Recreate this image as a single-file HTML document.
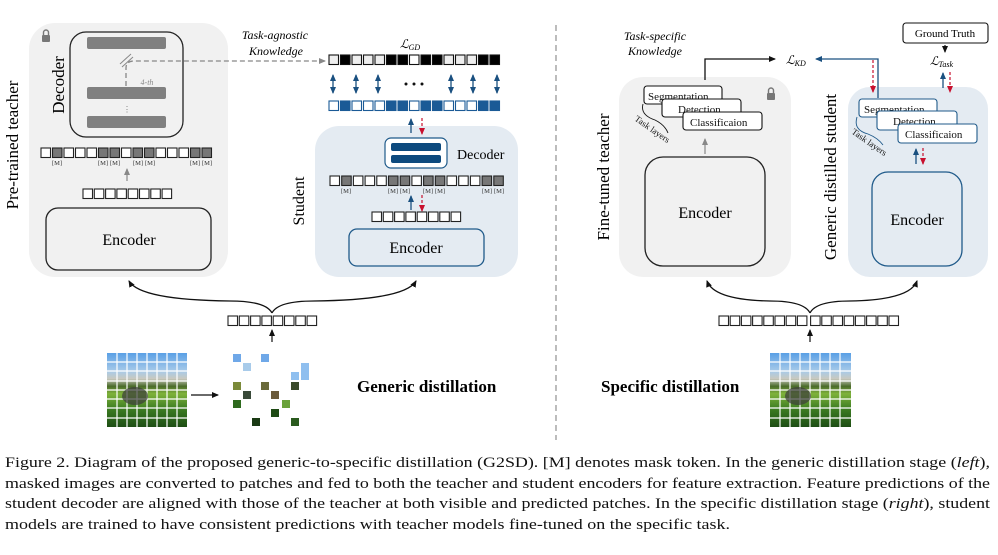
<!DOCTYPE html>
<html><head><meta charset="utf-8"><style>
html,body{margin:0;padding:0;background:#fff;}
svg{display:block;}
text{font-family:"Liberation Serif",serif;}
</style></head><body>
<svg width="998" height="555" viewBox="0 0 998 555" xmlns="http://www.w3.org/2000/svg">
<defs>
<marker id="ab" markerWidth="8" markerHeight="8" refX="6" refY="3" orient="auto" markerUnits="userSpaceOnUse"><path d="M0,0 L7,3 L0,6 Z" fill="#111"/></marker>
<marker id="ag" markerWidth="8" markerHeight="8" refX="6" refY="3" orient="auto" markerUnits="userSpaceOnUse"><path d="M0,0 L7,3 L0,6 Z" fill="#888"/></marker>
<marker id="au" markerWidth="8" markerHeight="8" refX="6" refY="3" orient="auto" markerUnits="userSpaceOnUse"><path d="M0,0 L7,3 L0,6 Z" fill="#1a5080"/></marker>
<marker id="au2" markerWidth="8" markerHeight="8" refX="1" refY="3" orient="auto" markerUnits="userSpaceOnUse"><path d="M7,0 L0,3 L7,6 Z" fill="#1a5080"/></marker>
<marker id="ar" markerWidth="8" markerHeight="8" refX="6" refY="3" orient="auto" markerUnits="userSpaceOnUse"><path d="M0,0 L7,3 L0,6 Z" fill="#c8102e"/></marker>
<linearGradient id="img" x1="0" y1="0" x2="0" y2="1">
<stop offset="0" stop-color="#5aa0e6"/><stop offset="0.25" stop-color="#a9cbe8"/><stop offset="0.35" stop-color="#c9c9bf"/><stop offset="0.45" stop-color="#4a6b2a"/><stop offset="0.55" stop-color="#7fb23a"/><stop offset="0.75" stop-color="#3d7d22"/><stop offset="1" stop-color="#1d4d14"/>
</linearGradient>
<g id="sq"><rect width="9.5" height="9.5" fill="#fff" stroke="#222" stroke-width="1.1"/></g>
</defs>

<!-- LEFT TEACHER -->
<rect x="29" y="23" width="199" height="254" rx="26" fill="#f1f1f1"/>
<rect x="42" y="35" width="8" height="7" rx="1" fill="#777"/><path d="M43.5,35 v-2.5 a2.5,2.5 0 0 1 5,0 v2.5" fill="none" stroke="#777" stroke-width="1.4"/>
<rect x="70" y="32" width="113" height="105" rx="16" fill="none" stroke="#222" stroke-width="1.3"/>
<rect x="87" y="37" width="79" height="12" rx="2" fill="#808080"/>
<rect x="87" y="87" width="79" height="12" rx="2" fill="#808080"/>
<rect x="87" y="116" width="79" height="12" rx="2" fill="#808080"/>
<text x="127" y="112" font-size="8" fill="#777" text-anchor="middle">⋮</text>
<path d="M126,86 V68 Q126,61 134,61 H325" fill="none" stroke="#888" stroke-width="1.3" stroke-dasharray="5,3" marker-end="url(#ag)"/>
<path d="M120,64 L131,54 M122,67 L133,57" stroke="#888" stroke-width="1"/>
<text x="147" y="85" font-size="8" font-style="italic" fill="#888" text-anchor="middle">4-th</text>
<text transform="translate(64,85) rotate(-90)" font-size="17" text-anchor="middle">Decoder</text>
<text transform="translate(18,145) rotate(-90)" font-size="17" text-anchor="middle">Pre-trained teacher</text>
<g fill="#fff" stroke="#222" stroke-width="1.1">
<rect x="41" y="148" width="9.5" height="9.5"/><rect x="52.5" y="148" width="9.5" height="9.5" fill="#777"/><rect x="64" y="148" width="9.5" height="9.5"/><rect x="75.5" y="148" width="9.5" height="9.5"/><rect x="87" y="148" width="9.5" height="9.5"/><rect x="98.5" y="148" width="9.5" height="9.5" fill="#777"/><rect x="110" y="148" width="9.5" height="9.5" fill="#777"/><rect x="121.5" y="148" width="9.5" height="9.5"/><rect x="133" y="148" width="9.5" height="9.5" fill="#777"/><rect x="144.5" y="148" width="9.5" height="9.5" fill="#777"/><rect x="156" y="148" width="9.5" height="9.5"/><rect x="167.5" y="148" width="9.5" height="9.5"/><rect x="179" y="148" width="9.5" height="9.5"/><rect x="190.5" y="148" width="9.5" height="9.5" fill="#777"/><rect x="202" y="148" width="9.5" height="9.5" fill="#777"/>
</g>
<g font-size="6.5" fill="#333" text-anchor="middle">
<text x="57" y="165">[M]</text><text x="103" y="165">[M]</text><text x="115" y="165">[M]</text><text x="138" y="165">[M]</text><text x="150" y="165">[M]</text><text x="195" y="165">[M]</text><text x="207" y="165">[M]</text>
</g>
<line x1="127" y1="181" x2="127" y2="169" stroke="#888" stroke-width="1.2" marker-end="url(#ag)"/>
<g fill="#fff" stroke="#222" stroke-width="1.1">
<rect x="83" y="189" width="9.5" height="9.5"/><rect x="94.3" y="189" width="9.5" height="9.5"/><rect x="105.6" y="189" width="9.5" height="9.5"/><rect x="116.9" y="189" width="9.5" height="9.5"/><rect x="128.2" y="189" width="9.5" height="9.5"/><rect x="139.5" y="189" width="9.5" height="9.5"/><rect x="150.8" y="189" width="9.5" height="9.5"/><rect x="162.1" y="189" width="9.5" height="9.5"/>
</g>
<rect x="46" y="208" width="165" height="62" rx="12" fill="none" stroke="#222" stroke-width="1.3"/>
<text x="129" y="245" font-size="16" text-anchor="middle">Encoder</text>

<text x="275" y="39" font-size="12" font-style="italic" text-anchor="middle">Task-agnostic</text>
<text x="276" y="55" font-size="12" font-style="italic" text-anchor="middle">Knowledge</text>
<text x="400" y="48" font-size="12" font-style="italic">ℒ<tspan font-size="8" dy="2">GD</tspan></text>

<!-- alignment rows -->
<g stroke="#111" stroke-width="1.1" fill="#fff">
<rect x="329" y="55" width="9.5" height="9.5" fill="#eee"/><rect x="340.5" y="55" width="9.5" height="9.5" fill="#000"/><rect x="352" y="55" width="9.5" height="9.5" fill="#eee"/><rect x="363.5" y="55" width="9.5" height="9.5" fill="#eee"/><rect x="375" y="55" width="9.5" height="9.5" fill="#eee"/><rect x="386.5" y="55" width="9.5" height="9.5" fill="#000"/><rect x="398" y="55" width="9.5" height="9.5" fill="#000"/><rect x="409.5" y="55" width="9.5" height="9.5"/><rect x="421" y="55" width="9.5" height="9.5" fill="#000"/><rect x="432.5" y="55" width="9.5" height="9.5" fill="#000"/><rect x="444" y="55" width="9.5" height="9.5" fill="#eee"/><rect x="455.5" y="55" width="9.5" height="9.5" fill="#eee"/><rect x="467" y="55" width="9.5" height="9.5" fill="#eee"/><rect x="478.5" y="55" width="9.5" height="9.5" fill="#000"/><rect x="490" y="55" width="9.5" height="9.5" fill="#000"/>
</g>
<g stroke="#1a5a96" stroke-width="1.1" fill="#fff">
<rect x="329" y="101" width="9.5" height="9.5"/><rect x="340.5" y="101" width="9.5" height="9.5" fill="#1a5a96"/><rect x="352" y="101" width="9.5" height="9.5"/><rect x="363.5" y="101" width="9.5" height="9.5"/><rect x="375" y="101" width="9.5" height="9.5"/><rect x="386.5" y="101" width="9.5" height="9.5" fill="#1a5a96"/><rect x="398" y="101" width="9.5" height="9.5" fill="#1a5a96"/><rect x="409.5" y="101" width="9.5" height="9.5"/><rect x="421" y="101" width="9.5" height="9.5" fill="#1a5a96"/><rect x="432.5" y="101" width="9.5" height="9.5" fill="#1a5a96"/><rect x="444" y="101" width="9.5" height="9.5"/><rect x="455.5" y="101" width="9.5" height="9.5"/><rect x="467" y="101" width="9.5" height="9.5"/><rect x="478.5" y="101" width="9.5" height="9.5" fill="#1a5a96"/><rect x="490" y="101" width="9.5" height="9.5" fill="#1a5a96"/>
</g>
<g stroke="#1a5080" stroke-width="1.3">
<line x1="333" y1="75" x2="333" y2="93" marker-end="url(#au)" marker-start="url(#au2)"/>
<line x1="356" y1="75" x2="356" y2="93" marker-end="url(#au)" marker-start="url(#au2)"/>
<line x1="378" y1="75" x2="378" y2="93" marker-end="url(#au)" marker-start="url(#au2)"/>
<line x1="451" y1="75" x2="451" y2="93" marker-end="url(#au)" marker-start="url(#au2)"/>
<line x1="473" y1="75" x2="473" y2="93" marker-end="url(#au)" marker-start="url(#au2)"/>
<line x1="497" y1="75" x2="497" y2="93" marker-end="url(#au)" marker-start="url(#au2)"/>
</g>
<g fill="#111"><circle cx="406" cy="84" r="1.5"/><circle cx="414" cy="84" r="1.5"/><circle cx="422" cy="84" r="1.5"/></g>

<!-- STUDENT -->
<rect x="315" y="126" width="203" height="151" rx="24" fill="#e4ebf2"/>
<line x1="411" y1="133" x2="411" y2="119" stroke="#1a5080" stroke-width="1.3" marker-end="url(#au)"/>
<line x1="422" y1="118" x2="422" y2="134" stroke="#c8102e" stroke-width="1.2" stroke-dasharray="3,2" marker-end="url(#ar)"/>
<rect x="385" y="138" width="62" height="30" rx="6" fill="#fff" stroke="#1f5a8a" stroke-width="1.2"/>
<rect x="391" y="143" width="50" height="8" rx="2" fill="#0d4a7e"/>
<rect x="391" y="155" width="50" height="8" rx="2" fill="#0d4a7e"/>
<text x="457" y="159" font-size="14">Decoder</text>
<text transform="translate(304,201) rotate(-90)" font-size="16" text-anchor="middle">Student</text>
<g fill="#fff" stroke="#222" stroke-width="1.1">
<rect x="330" y="176" width="9.5" height="9.5"/><rect x="341.7" y="176" width="9.5" height="9.5" fill="#777"/><rect x="353.4" y="176" width="9.5" height="9.5"/><rect x="365.1" y="176" width="9.5" height="9.5"/><rect x="376.8" y="176" width="9.5" height="9.5"/><rect x="388.5" y="176" width="9.5" height="9.5" fill="#777"/><rect x="400.2" y="176" width="9.5" height="9.5" fill="#777"/><rect x="411.9" y="176" width="9.5" height="9.5"/><rect x="423.6" y="176" width="9.5" height="9.5" fill="#777"/><rect x="435.3" y="176" width="9.5" height="9.5" fill="#777"/><rect x="447" y="176" width="9.5" height="9.5"/><rect x="458.7" y="176" width="9.5" height="9.5"/><rect x="470.4" y="176" width="9.5" height="9.5"/><rect x="482.1" y="176" width="9.5" height="9.5" fill="#777"/><rect x="493.8" y="176" width="9.5" height="9.5" fill="#777"/>
</g>
<g font-size="6.5" fill="#333" text-anchor="middle">
<text x="346" y="193">[M]</text><text x="393" y="193">[M]</text><text x="405" y="193">[M]</text><text x="428" y="193">[M]</text><text x="440" y="193">[M]</text><text x="487" y="193">[M]</text><text x="499" y="193">[M]</text>
</g>
<line x1="411" y1="210" x2="411" y2="196" stroke="#1a5080" stroke-width="1.3" marker-end="url(#au)"/>
<line x1="422" y1="195" x2="422" y2="211" stroke="#c8102e" stroke-width="1.2" stroke-dasharray="3,2" marker-end="url(#ar)"/>
<g fill="#fff" stroke="#222" stroke-width="1.1">
<rect x="372" y="212" width="9.5" height="9.5"/><rect x="383.3" y="212" width="9.5" height="9.5"/><rect x="394.6" y="212" width="9.5" height="9.5"/><rect x="405.9" y="212" width="9.5" height="9.5"/><rect x="417.2" y="212" width="9.5" height="9.5"/><rect x="428.5" y="212" width="9.5" height="9.5"/><rect x="439.8" y="212" width="9.5" height="9.5"/><rect x="451.1" y="212" width="9.5" height="9.5"/>
</g>
<rect x="349" y="229" width="135" height="37" rx="8" fill="#fff" fill-opacity="0" stroke="#1f5a8a" stroke-width="1.3"/>
<text x="416" y="253" font-size="16" text-anchor="middle">Encoder</text>

<!-- bottom left -->
<path d="M272,313 Q266,301 230,301 Q140,300 129,281" fill="none" stroke="#111" stroke-width="1.3" marker-end="url(#ab)"/>
<path d="M272,313 Q278,301 314,301 Q405,300 416,281" fill="none" stroke="#111" stroke-width="1.3" marker-end="url(#ab)"/>
<g fill="#fff" stroke="#222" stroke-width="1.1">
<rect x="228" y="316" width="9.5" height="9.5"/><rect x="239.3" y="316" width="9.5" height="9.5"/><rect x="250.6" y="316" width="9.5" height="9.5"/><rect x="261.9" y="316" width="9.5" height="9.5"/><rect x="273.2" y="316" width="9.5" height="9.5"/><rect x="284.5" y="316" width="9.5" height="9.5"/><rect x="295.8" y="316" width="9.5" height="9.5"/><rect x="307.1" y="316" width="9.5" height="9.5"/>
</g>
<line x1="272" y1="342" x2="272" y2="330" stroke="#111" stroke-width="1.2" marker-end="url(#ab)"/>
<rect x="107" y="353" width="80" height="74" fill="url(#img)"/>
<g stroke="#fff" stroke-width="1.2">
<line x1="117" y1="353" x2="117" y2="427"/><line x1="127" y1="353" x2="127" y2="427"/><line x1="137" y1="353" x2="137" y2="427"/><line x1="147" y1="353" x2="147" y2="427"/><line x1="157" y1="353" x2="157" y2="427"/><line x1="167" y1="353" x2="167" y2="427"/><line x1="177" y1="353" x2="177" y2="427"/>
<line x1="107" y1="362" x2="187" y2="362"/><line x1="107" y1="371" x2="187" y2="371"/><line x1="107" y1="381" x2="187" y2="381"/><line x1="107" y1="390" x2="187" y2="390"/><line x1="107" y1="399" x2="187" y2="399"/><line x1="107" y1="408" x2="187" y2="408"/><line x1="107" y1="418" x2="187" y2="418"/>
</g>
<ellipse cx="135" cy="396" rx="13" ry="9" fill="#3b3b3b" opacity="0.7"/>
<line x1="191" y1="395" x2="218" y2="395" stroke="#111" stroke-width="1.3" marker-end="url(#ab)"/>
<g>
<rect x="233" y="354" width="8" height="8" fill="#6fa8e8"/><rect x="261" y="354" width="8" height="8" fill="#6fa8e8"/><rect x="243" y="363" width="8" height="8" fill="#a8cbea"/>
<rect x="301" y="363" width="8" height="17" fill="#8fbfef"/><rect x="291" y="372" width="8" height="8" fill="#8fbfef"/>
<rect x="233" y="382" width="8" height="8" fill="#7b8a3a"/><rect x="261" y="382" width="8" height="8" fill="#6a6a3a"/><rect x="291" y="382" width="8" height="8" fill="#3a4a2a"/>
<rect x="243" y="391" width="8" height="8" fill="#3a4a3a"/><rect x="271" y="391" width="8" height="8" fill="#6a5a3a"/>
<rect x="233" y="400" width="8" height="8" fill="#2e6a1e"/><rect x="282" y="400" width="8" height="8" fill="#6aa23a"/>
<rect x="271" y="409" width="8" height="8" fill="#1e4a14"/><rect x="252" y="418" width="8" height="8" fill="#1a3a14"/><rect x="291" y="418" width="8" height="8" fill="#2a5a1e"/>
</g>
<text x="357" y="392" font-size="17" font-weight="bold">Generic distillation</text>

<line x1="556" y1="25" x2="556" y2="440" stroke="#999" stroke-width="1.3" stroke-dasharray="6,4"/>

<!-- RIGHT -->
<text x="655" y="40" font-size="12" font-style="italic" text-anchor="middle">Task-specific</text>
<text x="655" y="55" font-size="12" font-style="italic" text-anchor="middle">Knowledge</text>
<rect x="619" y="77" width="172" height="200" rx="24" fill="#f1f1f1"/>
<rect x="767" y="93" width="8" height="7" rx="1" fill="#777"/><path d="M768.5,93 v-2.5 a2.5,2.5 0 0 1 5,0 v2.5" fill="none" stroke="#777" stroke-width="1.4"/>
<path d="M705,80 V59 H775" fill="none" stroke="#111" stroke-width="1.3" marker-end="url(#ab)"/>
<text x="786" y="64" font-size="12" font-style="italic">ℒ<tspan font-size="8" dy="2">KD</tspan></text>
<g font-size="11" fill="#111">
<rect x="644" y="86" width="78" height="18" rx="3" fill="#fff" stroke="#111" stroke-width="1.1"/><text x="648" y="100">Segmentation</text>
<rect x="662" y="99" width="79" height="18" rx="3" fill="#fff" stroke="#111" stroke-width="1.1"/><text x="678" y="113">Detection</text>
<rect x="683" y="112" width="79" height="18" rx="3" fill="#fff" stroke="#111" stroke-width="1.1"/><text x="690" y="126">Classificaion</text>
</g>
<path d="M643,104 Q640,115 655,120 Q665,125 668,133" fill="none" stroke="#111" stroke-width="0.9"/>
<text transform="translate(634,120) rotate(35)" font-size="9" fill="#111">Task layers</text>
<line x1="705" y1="154" x2="705" y2="139" stroke="#888" stroke-width="1.2" marker-end="url(#ag)"/>
<rect x="645" y="157" width="120" height="109" rx="18" fill="none" stroke="#222" stroke-width="1.3"/>
<text x="705" y="218" font-size="16" text-anchor="middle">Encoder</text>
<text transform="translate(609,177) rotate(-90)" font-size="17" text-anchor="middle">Fine-tuned teacher</text>

<rect x="848" y="87" width="140" height="190" rx="22" fill="#e4ebf2"/>
<path d="M878,98 V59 H816" fill="none" stroke="#1a5080" stroke-width="1.3" marker-end="url(#au)"/>
<line x1="873" y1="60" x2="873" y2="92" stroke="#c8102e" stroke-width="1.2" stroke-dasharray="3,2" marker-end="url(#ar)"/>
<rect x="903" y="23" width="85" height="20" rx="3" fill="#fff" stroke="#111" stroke-width="1.1"/>
<text x="945" y="37" font-size="11" text-anchor="middle">Ground Truth</text>
<line x1="945" y1="45" x2="945" y2="52" stroke="#111" stroke-width="1.2" marker-end="url(#ab)"/>
<text x="930" y="65" font-size="12" font-style="italic">ℒ<tspan font-size="8" dy="2">Task</tspan></text>
<line x1="943" y1="88" x2="943" y2="73" stroke="#1a5080" stroke-width="1.3" marker-end="url(#au)"/>
<line x1="950" y1="72" x2="950" y2="92" stroke="#c8102e" stroke-width="1.2" stroke-dasharray="3,2" marker-end="url(#ar)"/>
<g font-size="11" fill="#111">
<rect x="859" y="99" width="78" height="18" rx="3" fill="#fff" stroke="#1f5a8a" stroke-width="1.1"/><text x="864" y="113">Segmentation</text>
<rect x="877" y="111" width="80" height="19" rx="3" fill="#fff" stroke="#1f5a8a" stroke-width="1.1"/><text x="893" y="125">Detection</text>
<rect x="898" y="124" width="79" height="19" rx="3" fill="#fff" stroke="#1f5a8a" stroke-width="1.1"/><text x="905" y="138">Classificaion</text>
</g>
<path d="M857,117 Q853,130 868,134 Q878,138 883,145" fill="none" stroke="#1f5a8a" stroke-width="0.9"/>
<text transform="translate(851,133) rotate(35)" font-size="9" fill="#111">Task layers</text>
<line x1="916" y1="164" x2="916" y2="149" stroke="#1a5080" stroke-width="1.3" marker-end="url(#au)"/>
<line x1="923" y1="148" x2="923" y2="164" stroke="#c8102e" stroke-width="1.2" stroke-dasharray="3,2" marker-end="url(#ar)"/>
<rect x="872" y="172" width="90" height="94" rx="16" fill="none" stroke="#1f5a8a" stroke-width="1.3"/>
<text x="917" y="225" font-size="16" text-anchor="middle">Encoder</text>
<text transform="translate(836,177) rotate(-90)" font-size="17" text-anchor="middle">Generic distilled student</text>

<path d="M810,313 Q804,301 770,301 Q714,300 707,281" fill="none" stroke="#111" stroke-width="1.3" marker-end="url(#ab)"/>
<path d="M810,313 Q816,301 850,301 Q910,300 917,281" fill="none" stroke="#111" stroke-width="1.3" marker-end="url(#ab)"/>
<g fill="#fff" stroke="#222" stroke-width="1.1">
<rect x="719" y="316" width="9.5" height="9.5"/><rect x="730.2" y="316" width="9.5" height="9.5"/><rect x="741.4" y="316" width="9.5" height="9.5"/><rect x="752.6" y="316" width="9.5" height="9.5"/><rect x="763.8" y="316" width="9.5" height="9.5"/><rect x="775" y="316" width="9.5" height="9.5"/><rect x="786.2" y="316" width="9.5" height="9.5"/><rect x="797.4" y="316" width="9.5" height="9.5"/><rect x="810.6" y="316" width="9.5" height="9.5"/><rect x="821.8" y="316" width="9.5" height="9.5"/><rect x="833" y="316" width="9.5" height="9.5"/><rect x="844.2" y="316" width="9.5" height="9.5"/><rect x="855.4" y="316" width="9.5" height="9.5"/><rect x="866.6" y="316" width="9.5" height="9.5"/><rect x="877.8" y="316" width="9.5" height="9.5"/><rect x="889" y="316" width="9.5" height="9.5"/>
</g>
<line x1="810" y1="342" x2="810" y2="330" stroke="#111" stroke-width="1.2" marker-end="url(#ab)"/>
<rect x="770" y="353" width="81" height="74" fill="url(#img)"/>
<g stroke="#fff" stroke-width="1.2">
<line x1="780" y1="353" x2="780" y2="427"/><line x1="790" y1="353" x2="790" y2="427"/><line x1="800" y1="353" x2="800" y2="427"/><line x1="810" y1="353" x2="810" y2="427"/><line x1="820" y1="353" x2="820" y2="427"/><line x1="830" y1="353" x2="830" y2="427"/><line x1="840" y1="353" x2="840" y2="427"/>
<line x1="770" y1="362" x2="851" y2="362"/><line x1="770" y1="371" x2="851" y2="371"/><line x1="770" y1="381" x2="851" y2="381"/><line x1="770" y1="390" x2="851" y2="390"/><line x1="770" y1="399" x2="851" y2="399"/><line x1="770" y1="408" x2="851" y2="408"/><line x1="770" y1="418" x2="851" y2="418"/>
</g>
<ellipse cx="798" cy="396" rx="13" ry="9" fill="#3b3b3b" opacity="0.7"/>
<text x="601" y="392" font-size="17" font-weight="bold">Specific distillation</text>

<!-- caption -->
<g font-size="15" fill="#111">
<text x="5" y="467" textLength="985" lengthAdjust="spacingAndGlyphs">Figure 2. Diagram of the proposed generic-to-specific distillation (G2SD). [M] denotes mask token. In the generic distillation stage (<tspan font-style="italic">left</tspan>),</text>
<text x="5" y="488" textLength="985" lengthAdjust="spacingAndGlyphs">masked images are converted to patches and fed to both the teacher and student encoders for feature extraction. Feature predictions of the</text>
<text x="5" y="508" textLength="985" lengthAdjust="spacingAndGlyphs">student decoder are aligned with those of the teacher at both visible and predicted patches. In the specific distillation stage (<tspan font-style="italic">right</tspan>), student</text>
<text x="5" y="529" textLength="725" lengthAdjust="spacingAndGlyphs">models are trained to have consistent predictions with teacher models fine-tuned on the specific task.</text>
</g>
</svg>
</body></html>
